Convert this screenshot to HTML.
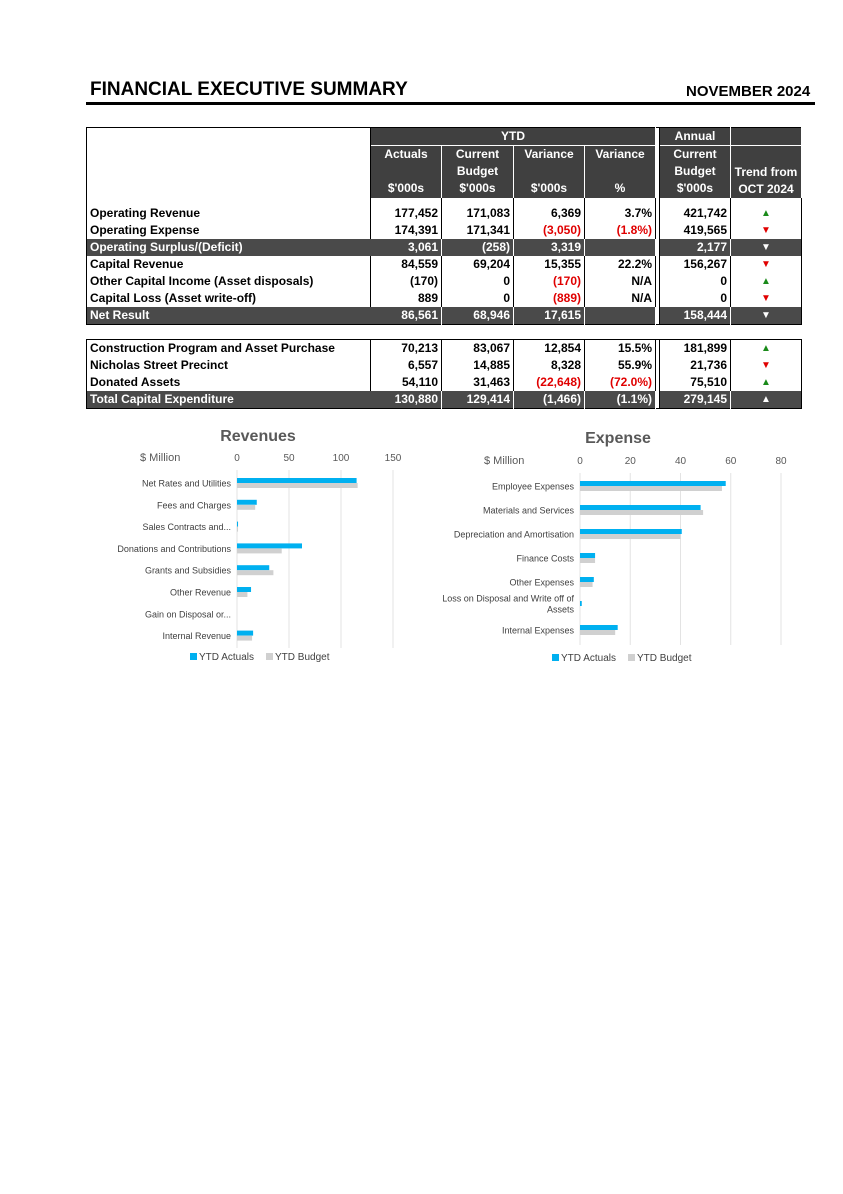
<!DOCTYPE html>
<html><head><meta charset="utf-8"><style>
body{margin:0;background:#fff;}
#page{position:relative;width:843px;height:1194px;background:#fff;font-family:"Liberation Sans",sans-serif;}
.title{position:absolute;top:79px;font-weight:bold;font-size:19px;color:#000;}
table{position:absolute;left:86px;width:715px;border-collapse:collapse;font-family:"Liberation Sans",sans-serif;font-size:12px;font-weight:bold;table-layout:fixed;}
td{padding:0 3px;height:17px;line-height:17px;white-space:nowrap;overflow:hidden;box-sizing:border-box;}
.n{text-align:right;border-right:1px solid #000;}
.hd{background:#404040;color:#fff;text-align:center;border-right:1px solid #fff;}
.dk td{background:#4a4a4a;color:#fff;}
.dk td.n{border-right:1px solid #fff;}
.gap{background:#fff !important;border-left:1px solid #000;border-right:1px solid #000;padding:0;}
.red{color:#e00000;}
.up{color:#1a8a1a;text-align:center;font-size:10px;}
.dn{color:#e00000;text-align:center;font-size:10px;}
.w{color:#fff;text-align:center;font-size:10px;}
</style></head><body>
<div id="page">
<div class="title" style="left:90px">FINANCIAL EXECUTIVE SUMMARY</div>
<div class="title" style="left:686px;top:83px;font-size:15px">NOVEMBER 2024</div>
<div style="position:absolute;left:86px;top:102px;width:729px;height:3px;background:#000"></div>

<table style="top:127px;border:1px solid #000">
<colgroup><col style="width:284px"><col style="width:71px"><col style="width:72px"><col style="width:71px"><col style="width:71px"><col style="width:4px"><col style="width:71px"><col style="width:71px"></colgroup>
<tr><td rowspan="2" style="border-right:1px solid #000"></td><td class="hd" colspan="4" style="border-bottom:1px solid #fff">YTD</td><td class="gap"></td><td class="hd" style="border-bottom:1px solid #fff">Annual</td><td class="hd" style="border-bottom:1px solid #fff"></td></tr>
<tr style="height:52px"><td class="hd" style="vertical-align:top;line-height:17px">Actuals<br><br>$'000s</td><td class="hd" style="vertical-align:top;line-height:17px">Current<br>Budget<br>$'000s</td><td class="hd" style="vertical-align:top;line-height:17px">Variance<br><br>$'000s</td><td class="hd" style="vertical-align:top;line-height:17px">Variance<br><br>%</td><td class="gap"></td><td class="hd" style="vertical-align:top;line-height:17px">Current<br>Budget<br>$'000s</td><td class="hd" style="vertical-align:bottom;line-height:17px">Trend from<br>OCT 2024</td></tr>
<tr style="height:7px"><td style="height:7px;border-right:1px solid #000"></td><td class="n" style="height:7px"></td><td class="n" style="height:7px"></td><td class="n" style="height:7px"></td><td class="n" style="height:7px"></td><td class="gap" style="height:7px"></td><td class="n" style="height:7px"></td><td style="height:7px"></td></tr>
<tr><td style="border-right:1px solid #000">Operating Revenue</td><td class="n">177,452</td><td class="n">171,083</td><td class="n">6,369</td><td class="n">3.7%</td><td class="gap"></td><td class="n">421,742</td><td class="up">▲</td></tr>
<tr><td style="border-right:1px solid #000">Operating Expense</td><td class="n">174,391</td><td class="n">171,341</td><td class="n red">(3,050)</td><td class="n red">(1.8%)</td><td class="gap"></td><td class="n">419,565</td><td class="dn">▼</td></tr>
<tr class="dk"><td>Operating Surplus/(Deficit)</td><td class="n">3,061</td><td class="n">(258)</td><td class="n">3,319</td><td class="n"></td><td class="gap"></td><td class="n">2,177</td><td class="w">▼</td></tr>
<tr><td style="border-right:1px solid #000">Capital Revenue</td><td class="n">84,559</td><td class="n">69,204</td><td class="n">15,355</td><td class="n">22.2%</td><td class="gap"></td><td class="n">156,267</td><td class="dn">▼</td></tr>
<tr><td style="border-right:1px solid #000">Other Capital Income (Asset disposals)</td><td class="n">(170)</td><td class="n">0</td><td class="n red">(170)</td><td class="n">N/A</td><td class="gap"></td><td class="n">0</td><td class="up">▲</td></tr>
<tr><td style="border-right:1px solid #000">Capital Loss (Asset write-off)</td><td class="n">889</td><td class="n">0</td><td class="n red">(889)</td><td class="n">N/A</td><td class="gap"></td><td class="n">0</td><td class="dn">▼</td></tr>
<tr class="dk"><td>Net Result</td><td class="n">86,561</td><td class="n">68,946</td><td class="n">17,615</td><td class="n"></td><td class="gap"></td><td class="n">158,444</td><td class="w">▼</td></tr>
</table>

<table style="top:339px;border:1px solid #000">
<colgroup><col style="width:284px"><col style="width:71px"><col style="width:72px"><col style="width:71px"><col style="width:71px"><col style="width:4px"><col style="width:71px"><col style="width:71px"></colgroup>
<tr><td style="border-right:1px solid #000">Construction Program and Asset Purchase</td><td class="n">70,213</td><td class="n">83,067</td><td class="n">12,854</td><td class="n">15.5%</td><td class="gap"></td><td class="n">181,899</td><td class="up">▲</td></tr>
<tr><td style="border-right:1px solid #000">Nicholas Street Precinct</td><td class="n">6,557</td><td class="n">14,885</td><td class="n">8,328</td><td class="n">55.9%</td><td class="gap"></td><td class="n">21,736</td><td class="dn">▼</td></tr>
<tr><td style="border-right:1px solid #000">Donated Assets</td><td class="n">54,110</td><td class="n">31,463</td><td class="n red">(22,648)</td><td class="n red">(72.0%)</td><td class="gap"></td><td class="n">75,510</td><td class="up">▲</td></tr>
<tr class="dk"><td>Total Capital Expenditure</td><td class="n">130,880</td><td class="n">129,414</td><td class="n">(1,466)</td><td class="n">(1.1%)</td><td class="gap"></td><td class="n">279,145</td><td class="w">▲</td></tr>
</table>

<svg id="charts" width="843" height="700" style="position:absolute;left:0;top:0"></svg>
</div>
<script>
const revCats=["Net Rates and Utilities","Fees and Charges","Sales Contracts and...","Donations and Contributions","Grants and Subsidies","Other Revenue","Gain on Disposal or...","Internal Revenue"];
const revActual=[115,19,1,62.5,31,13.5,0,15.5];
const revBudget=[116,17.5,1,43,35,10,0,14.5];
const revTicks=[0,50,100,150];
const expCats=["Employee Expenses","Materials and Services","Depreciation and Amortisation","Finance Costs","Other Expenses","Loss on Disposal and Write off of|Assets","Internal Expenses"];
const expActual=[58,48,40.5,6,5.5,0.7,15];
const expBudget=[56.5,49,40,6,5,0,14];
const expTicks=[0,20,40,60,80];
const NS="http://www.w3.org/2000/svg";
const svg=document.getElementById('charts');
function mk(t,a,p){const e=document.createElementNS(NS,t);for(const k in a)e.setAttribute(k,a[k]);(p||svg).appendChild(e);return e;}
function chart(o){
  const g=mk('g',{});
  
  
  const max=o.ticks[o.ticks.length-1];
  const x=v=>o.x0+(o.x1-o.x0)*v/max;
  const y=i=>o.y0+i*o.step;
  const t=mk('text',{x:o.titleX,y:o.titleY,'font-size':16,'font-weight':'bold',fill:'#595959','text-anchor':'middle','font-family':'Liberation Sans, sans-serif'},g);t.textContent=o.title;
  
  
  const u=mk('text',{x:o.unitX,y:o.tickY,'font-size':11,fill:'#595959','font-family':'Liberation Sans, sans-serif'},g);u.textContent='$ Million';
  
  
  o.ticks.forEach(v=>{
    mk('line',{x1:x(v),x2:x(v),y1:o.gTop,y2:o.gBot,stroke:'#e3e3e3','stroke-width':1},g);
    const tt=mk('text',{x:x(v),y:o.tickY,'font-size':10,fill:'#595959','text-anchor':'middle','font-family':'Liberation Sans, sans-serif'},g);tt.textContent=v;
    
    
  });
  o.cats.forEach((c,i)=>{
    const parts=c.split('|');
    parts.forEach((p,j)=>{
      const lt=mk('text',{x:o.x0-6,y:y(i)+3.5+(parts.length>1?(j*11-8):0),'font-size':9,fill:'#404040','text-anchor':'end','font-family':'Liberation Sans, sans-serif'},g);lt.textContent=p;
      
      
    });
    const b1=mk('rect',{x:x(0),y:y(i)-5,width:x(o.a[i])-x(0),height:5,fill:'#00b0f0'},g);
    
    
    const b2=mk('rect',{x:x(0),y:y(i),width:x(o.b[i])-x(0),height:5,fill:'#d0d0d0'},g);
    
    
  });
  const l1=mk('rect',{x:o.legX,y:o.legY-7,width:7,height:7,fill:'#00b0f0'},g);
  
  
  const lt1=mk('text',{x:o.legX+9,y:o.legY,'font-size':10,fill:'#404040','font-family':'Liberation Sans, sans-serif'},g);lt1.textContent='YTD Actuals';
  
  
  const l2=mk('rect',{x:o.legX+76,y:o.legY-7,width:7,height:7,fill:'#d0d0d0'},g);
  
  
  const lt2=mk('text',{x:o.legX+85,y:o.legY,'font-size':10,fill:'#404040','font-family':'Liberation Sans, sans-serif'},g);lt2.textContent='YTD Budget';
  
  
}
chart({name:'revenues-chart',title:'Revenues',titleX:258,titleY:441,unitX:140,tickY:461,cats:revCats,a:revActual,b:revBudget,ticks:revTicks,x0:237,x1:393,y0:483,step:21.8,gTop:470,gBot:648,legX:190,legY:660});
chart({name:'expense-chart',title:'Expense',titleX:618,titleY:443,unitX:484,tickY:464,cats:expCats,a:expActual,b:expBudget,ticks:expTicks,x0:580,x1:781,y0:486,step:24,gTop:473,gBot:645,legX:552,legY:661});
</script>
</body></html>
